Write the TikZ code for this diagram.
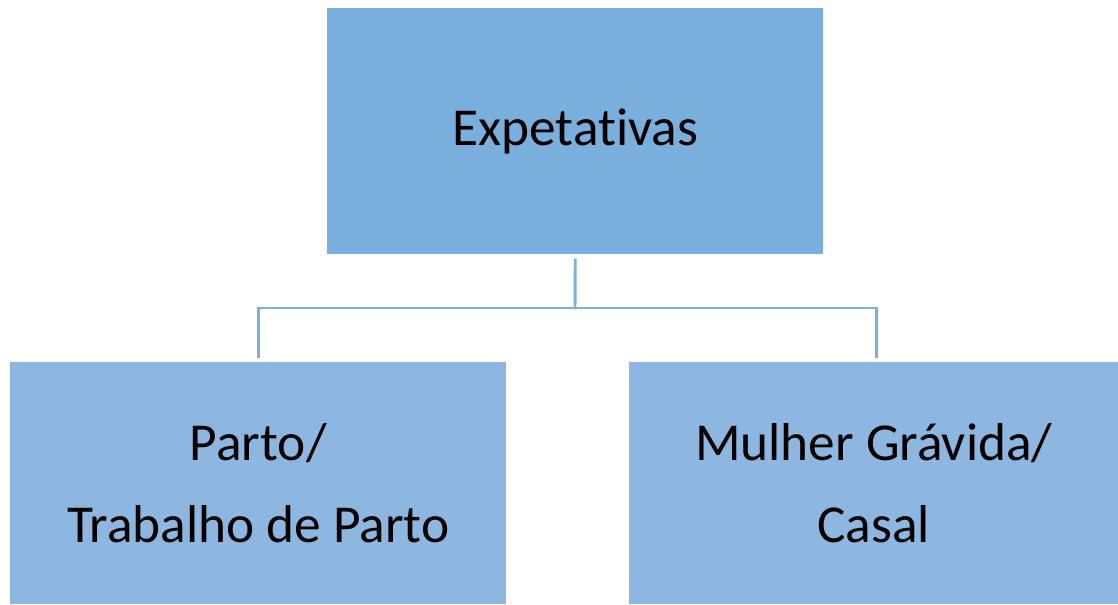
\documentclass[tikz,border=0pt]{standalone}
\usepackage{fontspec}
\setmainfont[Ligatures={NoCommon,NoContextual,NoRequired}]{Carlito}
\definecolor{topblue}{HTML}{7AAEDD}
\definecolor{subblue}{HTML}{8DB7E0}
\definecolor{linkblue}{HTML}{7DAEDD}
\begin{document}
\begin{tikzpicture}[x=0.75pt,y=-0.75pt,
    topbox/.style={fill=topblue,minimum width=372pt,minimum height=184.5pt,anchor=north west,inner sep=0pt,font=\fontsize{40}{61}\selectfont},
    subbox/.style={fill=subblue,minimum height=181.5pt,anchor=north west,inner sep=0pt,align=center,font=\fontsize{40}{61}\selectfont},
    link/.style={draw=linkblue,line width=2.2pt}]
                \useasboundingbox (0,0) rectangle (1118,604);
                \node[topbox] (top) at (327,8) {\raisebox{-2pt}{Expetat\kern0pt ivas}};
                \node[subbox,minimum width=372pt] (parto) at (10,362) {Parto/\\Trabalho de Parto};
                \node[subbox,minimum width=366.75pt] (mulher) at (629,362) {Mulher Grávida/\\Casal};
                \coordinate (mid) at (575,308);
                \draw[link] ([yshift=3pt]parto.north) |- (mid) -| ([xshift=2.25pt,yshift=3pt]mulher.north);
                \draw[link] ([yshift=-3pt]top.south) -- ([yshift=-1.1pt]mid);
            \end{tikzpicture}
\end{document}
